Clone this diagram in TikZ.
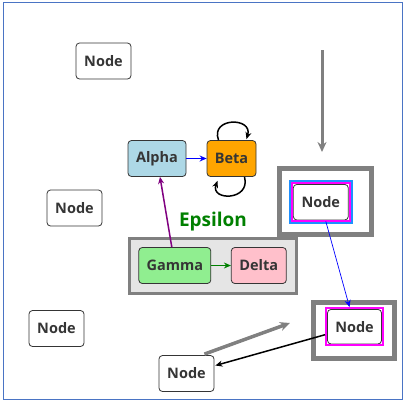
\documentclass[tikz,border=0pt]{standalone}
\usepackage{fontspec}
\setmainfont{Open Sans}
\usetikzlibrary{arrows.meta,calc}
\definecolor{txt}{HTML}{353535}
\definecolor{frameblue}{HTML}{4A74C4}
\definecolor{lblue}{HTML}{ADD8E6}
\definecolor{lorange}{HTML}{FFA500}
\definecolor{lgreen}{HTML}{90EE90}
\definecolor{lpink}{HTML}{FFC0CB}
\definecolor{epsgreen}{HTML}{008000}
\definecolor{boxgray}{HTML}{808080}
\definecolor{boxfill}{HTML}{E5E5E5}
\definecolor{dodger}{HTML}{1E90FF}
\definecolor{mag}{HTML}{FF00FF}
\definecolor{purp}{HTML}{800080}
\definecolor{pureblue}{HTML}{0000FF}
\tikzset{
  box/.style={draw=txt, line width=0.8pt, rounded corners=3.5pt, fill=white,
    minimum width=55pt, minimum height=36pt, inner sep=0pt,
    font=\fontsize{14.5}{16}\selectfont\bfseries, text=txt},
  frame/.style={draw=boxgray, line width=4.5pt},
  arr/.style={-{Stealth[length=7pt,width=6pt]}},
  bigarr/.style={-{Stealth[length=10pt,width=9pt]}},
}
\begin{document}
\begin{tikzpicture}[x=1pt,y=-1pt]
\useasboundingbox (0,0) rectangle (409,402);
\draw[frameblue, line width=1pt] (3.5,2.5) rectangle (402.5,399.5);
% frames
\draw[frame, fill=white] (279.3,168.3) rectangle (371.7,234.4);
\draw[frame, fill=white] (313.3,302.3) rectangle (394.4,358.7);
\draw[draw=boxgray, fill=boxfill, line width=3pt] (129.5,238) rectangle (296.2,293.2);
% plain nodes
\node[box] (n1) at (103.5,61) {Node};
\node[box] (n2) at (74.5,208) {Node};
\node[box] (n3) at (56.5,328.5) {Node};
\node[box] (nb) at (186.5,373.5) {Node};
% colored nodes
\node[box, fill=lblue, minimum width=58pt] (alpha) at (157,158.5) {Alpha};
\node[box, fill=lorange, minimum width=49pt] (beta) at (231.5,158.5) {Beta};
\node[box, fill=lgreen, minimum width=72pt] (gamma) at (174.8,265.5) {Gamma};
\node[box, fill=lpink, minimum width=55pt] (delta) at (258.8,265.5) {Delta};
\node[text=epsgreen, font=\fontsize{19}{21}\selectfont\bfseries, inner sep=0pt] (eps) at (213,222) {Epsilon};
% framed nodes
\node[box, minimum width=55pt, minimum height=35.5pt] (tr) at (320.8,202.2) {Node};
\draw[mag, line width=2pt] ($(tr.north west)+(-1,-1)$) rectangle ($(tr.south east)+(1,1)$);
\draw[dodger, line width=2pt] ($(tr.north west)+(-3,-3)$) rectangle ($(tr.south east)+(3,3)$);
\node[box, minimum width=54pt, minimum height=34.5pt] (br) at (354.5,326.7) {Node};
\draw[mag, line width=2pt] ($(br.north west)+(-1,-1)$) rectangle ($(br.south east)+(1,1)$);
% coordinates
\coordinate (gtop) at (322,50);
\coordinate (gbot) at (322,152);
\coordinate (gend) at (290,323);
% connectors
\draw[bigarr, boxgray, line width=3pt] (gtop) -- (gbot);
\draw[bigarr, boxgray, line width=3.5pt] ($(nb.north east)+(-10,-1)$) -- (gend);
\draw[arr, black, line width=1.5pt] ($(br.west)+(-2,8)$) -- ($(nb.east)+(1,-8)$);
\draw[arr, pureblue, line width=0.7pt] ($(tr.south)+(5,1)$) -- ($(br.north)+(-5,-2)$);
\draw[arr, pureblue, line width=1.5pt] (alpha) -- (beta);
\draw[arr, epsgreen, line width=1.5pt] (gamma) -- (delta);
\draw[arr, purp, line width=1.5pt] ($(gamma.north)+(-3,0)$) -- ($(alpha.south)+(3,0)$);
\draw[arr, black, line width=1.5pt] ($(beta.north)+(-13,0)$) .. controls (210,117) and (253,117) .. ($(beta.north)+(15,-1)$);
\draw[arr, black, line width=1.5pt] ($(beta.south)+(13,0)$) .. controls (251,201) and (210,201) .. ($(beta.south)+(-14,4)$);
\end{tikzpicture}
\end{document}
